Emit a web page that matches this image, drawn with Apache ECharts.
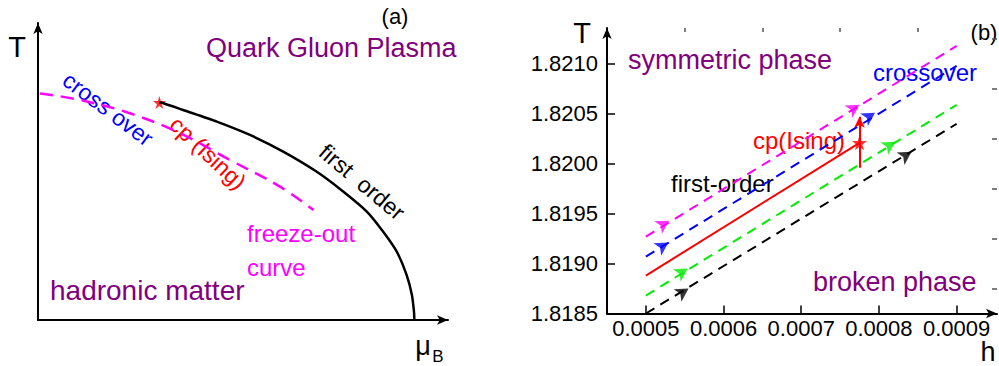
<!DOCTYPE html>
<html>
<head>
<meta charset="utf-8">
<script src="https://cdn.jsdelivr.net/npm/echarts@6/dist/echarts.min.js"></script>
<style>
  html, body { margin: 0; padding: 0; background: #fff; }
  #chart { width: 999px; height: 366px; }
</style>
</head>
<body>
<div id="chart"></div>
<script>
// (a) schematic phase diagram, arbitrary units (0-100 along each axis)
const freezeMu = [0.5, 10.2, 22.4, 34.6, 46.8, 59.0, 67.2];
const freezeT = [76.3, 74.1, 69.6, 62.9, 53.9, 44.9, 37.0];
const firstMu = [29.6, 30.6, 35.4, 43.6, 51.7, 59.8, 68.0, 74.5, 80.2, 84.2, 87.5, 89.9, 91.2, 91.7, 91.8];
const firstT = [73.2, 73.0, 70.7, 66.8, 62.3, 56.7, 49.9, 43.2, 36.5, 29.7, 23.0, 15.2, 8.4, 2.8, 0];
const cpA = [29.6, 73.2];

// (b) T vs h
const hEnds = [0.0005, 0.0009];
const magentaT = [1.81927, 1.82118];
const blueT = [1.81907, 1.82098];
const greenT = [1.81868, 1.82059];
const blackT = [1.81850, 1.82040];
const redH = [0.0005, 0.000775];
const redT = [1.81888, 1.82021];
const cpB = [0.000775, 1.82021];
const jumpT = [1.81996, 1.82047];
const magentaArrows = [[0.000530, 1.81943], [0.000775, 1.82059]];
const blueArrows = [[0.000529, 1.81921], [0.000795, 1.82051]];
const greenArrows = [[0.000554, 1.81895], [0.000821, 1.82022]];
const blackArrows = [[0.000555, 1.81875], [0.000842, 1.82012]];
const hTicks = [0.0005, 0.0006, 0.0007, 0.0008, 0.0009];
const hMinor = [0.00055, 0.00065, 0.00075, 0.00085];
const tTicks = [1.8185, 1.8190, 1.8195, 1.8200, 1.8205, 1.8210];
const tMinor = [1.81875, 1.81925, 1.81975, 1.82025, 1.82075, 1.82125];

const FONT = '"Liberation Sans", Arial, sans-serif';
const STAR = 'path://M50,0 L61,35 L98,35 L68,57 L79,91 L50,70 L21,91 L32,57 L2,35 L39,35 Z';

const chart = echarts.init(document.getElementById('chart'), null, { renderer: 'svg' });

function pairs(xs, ys) {
  return xs.map((x, i) => [x, ys[i]]);
}

function dashed(name, ys, color) {
  return {
    name: name, type: 'line', xAxisIndex: 1, yAxisIndex: 1,
    data: pairs(hEnds, ys), symbol: 'none', silent: true,
    lineStyle: { color: color, width: 2, type: [10, 7] }
  };
}

function heads(pts, color) {
  return {
    type: 'scatter', xAxisIndex: 1, yAxisIndex: 1, data: pts,
    symbol: 'arrow', symbolSize: [11, 13], symbolRotate: -58,
    itemStyle: { color: color }, silent: true
  };
}

function txt(text, x, y, size, color, opts) {
  opts = opts || {};
  return {
    type: 'text', x: x, y: y, rotation: opts.rot ? opts.rot * Math.PI / 180 : 0,
    style: {
      text: text, fill: color, font: size + 'px ' + FONT,
      align: opts.align || 'center', verticalAlign: opts.valign || 'middle'
    }
  };
}

const axisLine = {
  show: true, symbol: ['none', 'arrow'], symbolSize: [7, 11],
  lineStyle: { color: '#000', width: 2 }
};

const option = {
  animation: false,
  backgroundColor: '#fff',
  grid: [
    { left: 38, top: 23, width: 410, height: 297 },
    { left: 607, top: 28, right: 2, bottom: 52.5 }
  ],
  xAxis: [
    { gridIndex: 0, type: 'value', min: 0, max: 100, axisLine: axisLine,
      axisTick: { show: false }, axisLabel: { show: false }, splitLine: { show: false } },
    { gridIndex: 1, type: 'value', min: 0.00045, max: 0.000952, axisLine: axisLine,
      axisTick: { show: true, inside: true, length: 8, customValues: hTicks, lineStyle: { width: 1.5 } },
      axisLabel: { show: true, customValues: hTicks, color: '#000', fontSize: 22, fontFamily: FONT,
        margin: 4, formatter: v => v.toFixed(4) },
      splitLine: { show: false } },
    { gridIndex: 1, type: 'value', min: 0.00045, max: 0.000952, axisLine: { show: false },
      axisTick: { show: true, inside: true, length: 4, customValues: hMinor, lineStyle: { width: 1.5 } },
      axisLabel: { show: false }, splitLine: { show: false } }
  ],
  yAxis: [
    { gridIndex: 0, type: 'value', min: 0, max: 100, axisLine: axisLine,
      axisTick: { show: false }, axisLabel: { show: false }, splitLine: { show: false } },
    { gridIndex: 1, type: 'value', min: 1.8185, max: 1.82136, axisLine: axisLine,
      axisTick: { show: true, inside: true, length: 8, customValues: tTicks, lineStyle: { width: 1.5 } },
      axisLabel: { show: true, customValues: tTicks, color: '#000', fontSize: 22, fontFamily: FONT,
        margin: 9, formatter: v => v.toFixed(4) },
      splitLine: { show: false } },
    { gridIndex: 1, type: 'value', min: 1.8185, max: 1.82136, axisLine: { show: false },
      axisTick: { show: true, inside: true, length: 5, customValues: tMinor, lineStyle: { width: 1.5 } },
      axisLabel: { show: false }, splitLine: { show: false } }
  ],
  series: [
    // panel (a)
    { type: 'line', xAxisIndex: 0, yAxisIndex: 0, data: pairs(freezeMu, freezeT),
      smooth: 0.4, symbol: 'none', silent: true,
      lineStyle: { color: '#ff00ff', width: 2.5, type: [13, 8] } },
    { type: 'line', xAxisIndex: 0, yAxisIndex: 0, data: pairs(firstMu, firstT),
      smooth: 0.2, symbol: 'none', silent: true,
      lineStyle: { color: '#000', width: 2.5 } },
    { type: 'scatter', xAxisIndex: 0, yAxisIndex: 0, data: [cpA],
      symbol: STAR, symbolSize: 13, itemStyle: { color: '#ff0000' }, silent: true },
    // panel (b)
    dashed('magenta', magentaT, '#ff00ff'),
    dashed('blue', blueT, '#0000ff'),
    dashed('green', greenT, '#00ee00'),
    dashed('black', blackT, '#000'),
    { type: 'line', xAxisIndex: 1, yAxisIndex: 1, data: pairs(redH, redT),
      symbol: 'none', silent: true, lineStyle: { color: '#ff0000', width: 2 },
      markLine: {
        silent: true, symbol: ['none', 'arrow'], symbolSize: [8, 11],
        label: { show: false },
        lineStyle: { color: '#ff0000', width: 2, type: 'solid' },
        data: [[{ coord: [cpB[0], jumpT[0]] }, { coord: [cpB[0], jumpT[1]] }]]
      } },
    heads(magentaArrows, '#ff00ff'),
    heads(blueArrows, '#0000ff'),
    heads(greenArrows, '#00ee00'),
    heads(blackArrows, '#000'),
    { type: 'scatter', xAxisIndex: 1, yAxisIndex: 1, data: [cpB],
      symbol: STAR, symbolSize: 15, itemStyle: { color: '#ff0000' }, silent: true }
  ],
  graphic: [
    // panel (a) labels
    txt('(a)', 395, 16, 22, '#000'),
    txt('T', 17, 47, 29, '#000'),
    txt('μ', 423, 346, 27, '#000'),
    txt('B', 438, 356, 17, '#000'),
    txt('Quark Gluon Plasma', 206, 48, 27, '#800080', { align: 'left' }),
    txt('cross over', 108, 109, 23, '#0000ff', { rot: -37 }),
    txt('cp (Ising)', 208, 153, 23, '#ff0000', { rot: -43 }),
    txt('first  order', 362, 182, 23, '#000', { rot: -40 }),
    txt('freeze-out', 247, 233, 24, '#ff00ff', { align: 'left' }),
    txt('curve', 247, 267, 24, '#ff00ff', { align: 'left' }),
    txt('hadronic matter', 50, 290, 28, '#800080', { align: 'left' }),
    // panel (b) labels
    txt('T', 582, 33, 29, '#000'),
    txt('(b)', 984, 32, 22, '#000'),
    txt('symmetric phase', 628, 60, 27, '#800080', { align: 'left' }),
    txt('crossover', 873, 72, 24, '#0000ff', { align: 'left' }),
    txt('cp(Ising)', 753, 140, 24, '#ff0000', { align: 'left' }),
    txt('first-order', 671, 183, 24, '#000', { align: 'left' }),
    txt('broken phase', 813, 282, 27, '#800080', { align: 'left' }),
    txt('h', 988, 365, 27, '#000', { valign: 'bottom' })
  ]
};

chart.setOption(option);
</script>
</body>
</html>
